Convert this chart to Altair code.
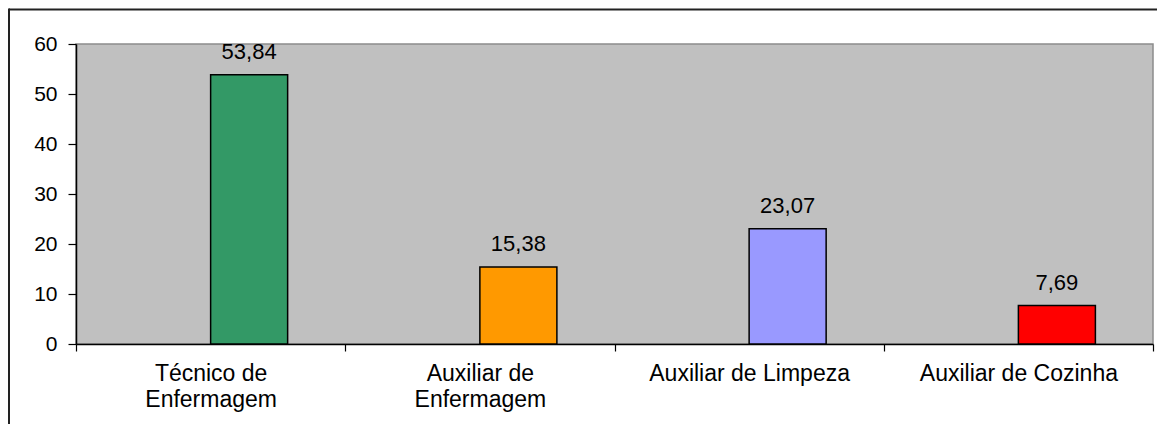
import altair as alt
import pandas as pd

categorias = ["Técnico de\nEnfermagem", "Auxiliar de\nEnfermagem", "Auxiliar de Limpeza", "Auxiliar de Cozinha"]
valores = [53.84, 15.38, 23.07, 7.69]
cores = ["#339966", "#FF9900", "#9999FF", "#FF0000"]
serie = "Série 1"
y_ticks = [0, 10, 20, 30, 40, 50, 60]

df = pd.DataFrame({"cat": categorias, "valor": valores, "serie": [serie] * len(categorias)})

FONT = "Liberation Sans"

x_enc = alt.X("cat:N", sort=categorias, title=None,
              scale=alt.Scale(paddingInner=0, paddingOuter=0),
              axis=alt.Axis(labelAngle=0, tickBand="extent", domainColor="black", domainWidth=1.5,
                            tickColor="black", tickWidth=1.2, tickSize=7, labelFontSize=23,
                            labelFont=FONT, labelColor="black", labelLineHeight=26, labelPadding=11,
                            labelLimit=0,
                            labelExpr="split(datum.label, '\\n')", labelBaseline="top"))
xo_enc = alt.XOffset("serie:N", scale=alt.Scale(domain=["_vazio", serie], paddingInner=0, paddingOuter=0.748))
y_enc = alt.Y("valor:Q", title=None,
              scale=alt.Scale(domain=[0, 60], nice=False),
              axis=alt.Axis(values=y_ticks, grid=False, domainColor="black", domainWidth=1.5,
                            tickColor="black", tickWidth=1.2, tickSize=8, labelFontSize=21,
                            labelFont=FONT, labelColor="black", labelPadding=11))

base = alt.Chart(df)

bars = base.mark_bar(stroke="black", strokeWidth=1.5).encode(
    x=x_enc, xOffset=xo_enc, y=y_enc,
    color=alt.Color("cat:N", sort=categorias, scale=alt.Scale(domain=categorias, range=cores), legend=None),
)

labels = base.transform_calculate(
    rotulo="replace(format(datum.valor, '.2f'), '.', ',')"
).mark_text(baseline="alphabetic", dy=-16, fontSize=22, font=FONT, color="black").encode(
    x=x_enc, xOffset=xo_enc, y=y_enc, text="rotulo:N"
)

one = alt.Chart(pd.DataFrame({"a": [0]}))
top_border = one.mark_rule(color="#222222", strokeWidth=2).encode(
    x=alt.value(-67), x2=alt.value(1085), y=alt.value(-34.5)
)
left_border = one.mark_rule(color="#222222", strokeWidth=2).encode(
    x=alt.value(-67), y=alt.value(-35.5), y2=alt.value(385)
)

chart = alt.layer(bars, labels, top_border, left_border).properties(
    width=1077, height=300,
    autosize=alt.AutoSizeParams(type="none"),
    padding={"left": 68, "top": 36, "right": 4, "bottom": 80},
).configure_view(
    fill="#C0C0C0", stroke="#8c8c8c", strokeWidth=1.5
)

chart.save("out.html", embed_options={"renderer": "svg", "actions": False})
